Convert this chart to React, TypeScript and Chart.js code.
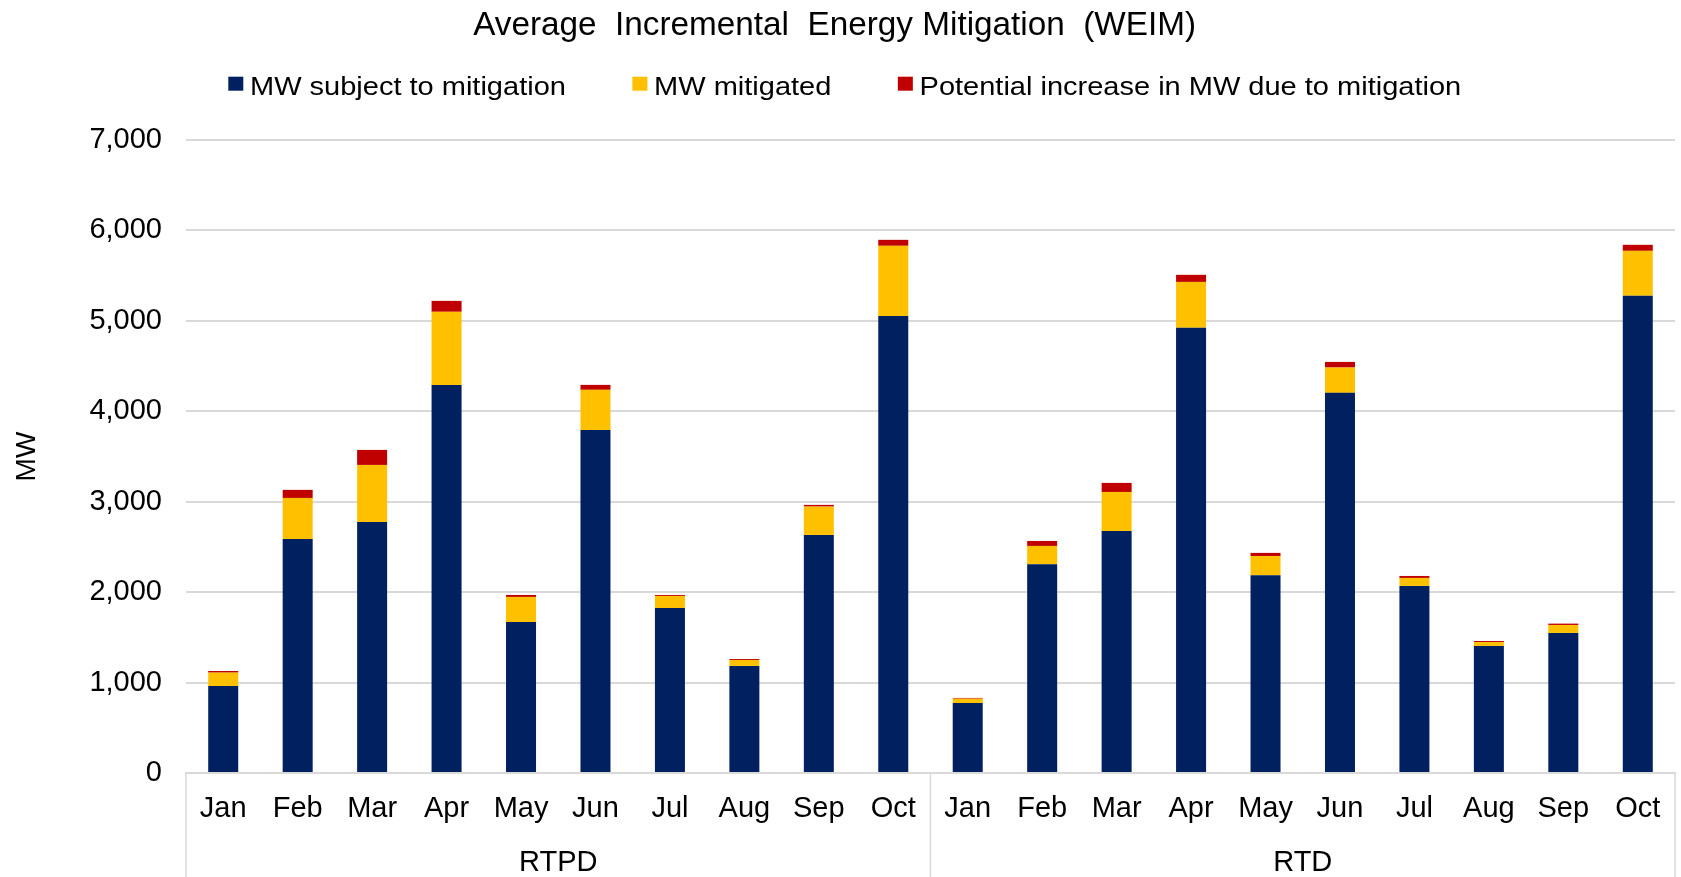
import React, { useEffect, useRef } from 'react';
import { Chart, registerables } from 'chart.js';

Chart.register(...registerables);

const months = ['Jan', 'Feb', 'Mar', 'Apr', 'May', 'Jun', 'Jul', 'Aug', 'Sep', 'Oct'];
const groupNames = ['RTPD', 'RTD'];

const subjectRTPD = [962, 2589, 2777, 4292, 1670, 3794, 1825, 1184, 2633, 5055];
const mitigatedRTPD = [148, 453, 630, 808, 277, 443, 133, 66, 313, 775];
const increaseRTPD = [18, 89, 166, 121, 22, 55, 11, 11, 19, 66];

const subjectRTD = [774, 2308, 2677, 4923, 2187, 4204, 2069, 1405, 1549, 5277];
const mitigatedRTD = [48, 203, 431, 508, 213, 280, 88, 44, 88, 497];
const increaseRTD = [8, 55, 100, 78, 34, 62, 22, 11, 15, 67];

const seriesNames = ['MW subject to mitigation', 'MW mitigated', 'Potential increase in MW due to mitigation'];
const seriesColors = ['#002060', '#FFC000', '#C00000'];

const yMin = 0;
const yMax = 7000;
const yStep = 1000;

const titleText = 'Average  Incremental  Energy Mitigation  (WEIM)';
const yAxisTitle = 'MW';

const FONT = '"Liberation Sans", Arial, Helvetica, sans-serif';
const GRID = '#d9d9d9';

export default function App() {
  const ref = useRef<HTMLCanvasElement | null>(null);

  useEffect(() => {
    const canvas = ref.current;
    if (!canvas) return;
    const labels = groupNames.flatMap(() => months);
    const seriesData = [
      [...subjectRTPD, ...subjectRTD],
      [...mitigatedRTPD, ...mitigatedRTD],
      [...increaseRTPD, ...increaseRTD],
    ];
    const datasets = seriesNames.map((name, i) => ({
      label: name,
      data: seriesData[i],
      backgroundColor: seriesColors[i],
      borderWidth: 0,
      barPercentage: 0.403,
      categoryPercentage: 1,
    }));

    const overlay = {
      id: 'overlay',
      afterDraw(chart: any) {
        const ctx = chart.ctx as CanvasRenderingContext2D;
        const area = chart.chartArea;
        const xs = chart.scales.x;
        ctx.save();
        // Title
        ctx.fillStyle = '#000';
        ctx.font = `33.3px ${FONT}`;
        ctx.textAlign = 'center';
        ctx.textBaseline = 'alphabetic';
        ctx.fillText(titleText, 834.6, 35);

        // Legend
        const sx = 1.16;
        ctx.font = `25px ${FONT}`;
        ctx.textAlign = 'left';
        let lx = 228.3;
        seriesNames.forEach((name, i) => {
          ctx.fillStyle = seriesColors[i];
          ctx.fillRect(lx, 76.7, 15, 14);
          const tx = lx + 21.7;
          ctx.fillStyle = '#000';
          ctx.save();
          ctx.translate(tx, 95);
          ctx.scale(sx, 1);
          ctx.fillText(name, 0, 0);
          ctx.restore();
          const w = ctx.measureText(name).width * sx;
          lx = tx + w + 66.5;
        });

        // Group separators and labels
        const n = months.length;
        ctx.strokeStyle = GRID;
        ctx.lineWidth = 1.5;
        for (let g = 0; g <= groupNames.length; g++) {
          const gx = xs.getPixelForValue(g * n - 0.5);
          ctx.beginPath();
          ctx.moveTo(gx, area.bottom);
          ctx.lineTo(gx, chart.height);
          ctx.stroke();
        }
        ctx.fillStyle = '#000';
        ctx.font = `29px ${FONT}`;
        ctx.textAlign = 'center';
        groupNames.forEach((gname, g) => {
          const a = xs.getPixelForValue(g * n - 0.5);
          const b = xs.getPixelForValue((g + 1) * n - 0.5);
          ctx.fillText(gname, (a + b) / 2, 871);
        });
        ctx.restore();
      },
    };

    const chart = new Chart(canvas, {
      type: 'bar',
      data: { labels, datasets },
      plugins: [overlay],
      options: {
        animation: false,
        responsive: false,
        maintainAspectRatio: false,
        layout: { padding: { top: 140, right: 6, left: 0, bottom: 0 } },
        plugins: {
          legend: { display: false },
          title: { display: false },
          tooltip: { enabled: false },
        },
        scales: {
          x: {
            stacked: true,
            grid: { display: false },
            border: { display: true, color: GRID, width: 2 },
            ticks: {
              autoSkip: false,
              maxRotation: 0,
              minRotation: 0,
              padding: 10.5,
              color: '#000',
              font: { family: FONT, size: 29 },
            },
            afterFit: (scale: any) => {
              scale.height = 104;
            },
          },
          y: {
            stacked: true,
            min: yMin,
            max: yMax,
            border: { display: false },
            grid: { color: GRID, lineWidth: 2, drawTicks: false },
            ticks: {
              stepSize: yStep,
              padding: 24,
              color: '#000',
              font: { family: FONT, size: 29 },
              callback: (v: any) => Number(v).toLocaleString('en-US'),
            },
            title: {
              display: true,
              text: yAxisTitle,
              color: '#000',
              font: { family: FONT, size: 28 },
              padding: 10,
            },
            afterFit: (scale: any) => {
              scale.width = 186;
            },
          },
        },
      },
    });
    return () => chart.destroy();
  }, []);

  return (
    <div style={{ position: 'absolute', left: 0, top: 0, width: 1681, height: 877, background: '#fff' }}>
      <canvas ref={ref} width={1681} height={877} style={{ display: 'block' }} />
    </div>
  );
}
